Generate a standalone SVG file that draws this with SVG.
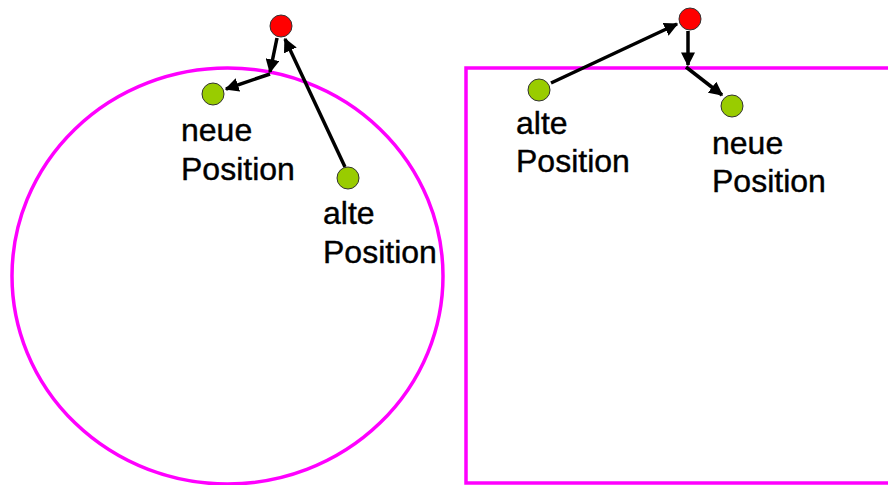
<svg xmlns="http://www.w3.org/2000/svg" width="888" height="485" viewBox="0 0 888 485">
  <style>
    .bound { fill: none; stroke: #ff00ff; stroke-width: 3.5; }
    .old, .new { fill: #99cc00; stroke: #333333; stroke-width: 1; }
    .hit { fill: #ff0000; stroke: #333333; stroke-width: 1; }
    .arrow { fill: none; stroke: #000000; stroke-width: 3.5; stroke-linejoin: miter; marker-end: url(#head); }
    .label { font-family: "Liberation Sans", Arial, sans-serif; font-size: 32px; fill: #000000; stroke: #000000; stroke-width: 0.4; }
  </style>
  <defs>
    <marker id="head" viewBox="0 0 10 10" refX="9" refY="5" markerWidth="4" markerHeight="4" orient="auto" markerUnits="strokeWidth">
      <path d="M0,0 L10,5 L0,10 Z" fill="#000000"/>
    </marker>
  </defs>
  <rect width="888" height="485" fill="#ffffff"/>

  <!-- boundaries: circle on the left, box on the right -->
  <g id="boundaries">
    <ellipse id="circle-boundary" class="bound" cx="227.5" cy="276" rx="215.5" ry="208"/>
    <rect id="box-boundary" class="bound" x="466" y="68" width="440" height="415"/>
  </g>

  <!-- movement connectors -->
  <g id="connectors">
    <line class="arrow" x1="345" y1="167" x2="285" y2="39"/>
    <line class="arrow" x1="277" y1="38" x2="270" y2="72"/>
    <line class="arrow" x1="270" y1="74" x2="226" y2="89"/>
    <line class="arrow" x1="551" y1="83" x2="677" y2="24"/>
    <line class="arrow" x1="688" y1="31" x2="688" y2="65"/>
    <line class="arrow" x1="686" y1="67" x2="722" y2="95"/>
  </g>

  <!-- circle case -->
  <g id="circle-hit">
    <circle class="hit" cx="281" cy="26" r="11"/>
  </g>
  <g id="circle-new">
    <circle class="new" cx="213" cy="94" r="11"/>
    <text class="label" x="181" y="141">neue</text>
    <text class="label" x="181" y="180">Position</text>
  </g>
  <g id="circle-old">
    <circle class="old" cx="348" cy="178" r="11"/>
    <text class="label" x="323" y="224">alte</text>
    <text class="label" x="323" y="263">Position</text>
  </g>

  <!-- box case -->
  <g id="box-hit">
    <circle class="hit" cx="690" cy="19" r="11"/>
  </g>
  <g id="box-old">
    <circle class="old" cx="539" cy="90" r="11"/>
    <text class="label" x="516" y="134">alte</text>
    <text class="label" x="516" y="172">Position</text>
  </g>
  <g id="box-new">
    <circle class="new" cx="732" cy="106" r="11"/>
    <text class="label" x="712" y="154">neue</text>
    <text class="label" x="712" y="192">Position</text>
  </g>
</svg>
